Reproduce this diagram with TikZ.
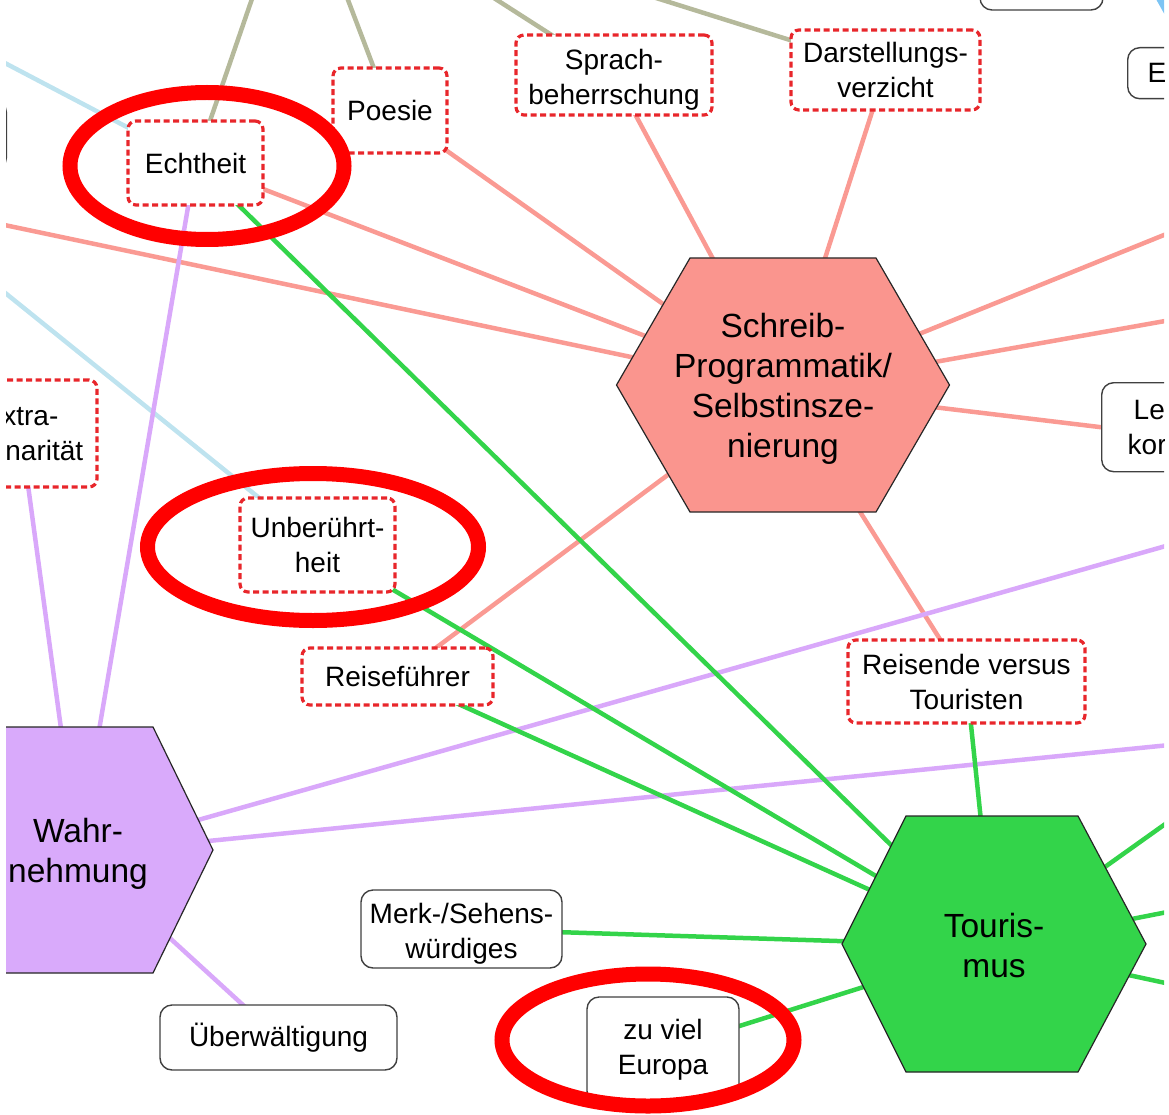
\documentclass[tikz,border=0pt]{standalone}
\usepackage{fontspec}
\setmainfont{Liberation Sans}
\pgfdeclarelayer{edges}
\pgfsetlayers{edges,main}

\definecolor{salmonfill}{HTML}{FA958E}
\definecolor{salmonline}{HTML}{FA9A93}
\definecolor{greenfill}{HTML}{33D44A}
\definecolor{greenline}{HTML}{33D44A}
\definecolor{lilacfill}{HTML}{D9AAFB}
\definecolor{lilacline}{HTML}{D9A8FA}
\definecolor{oliveline}{HTML}{B5B99B}
\definecolor{skyline}{HTML}{BEE3EF}
\definecolor{skyfill}{HTML}{7CC4F4}
\definecolor{dashred}{HTML}{E8262B}
\definecolor{boxgray}{HTML}{404040}
\definecolor{markred}{HTML}{FF0000}

\tikzset{
  dashbox/.style={draw=dashred, line width=3.2pt, dash pattern=on 6pt off 3.5pt,
    rounded corners=8pt, fill=white, align=center, inner sep=0pt,
    font=\fontsize{28}{35}\selectfont},
  solidbox/.style={draw=boxgray, line width=1.4pt, rounded corners=12pt,
    fill=white, align=center, inner sep=0pt, font=\fontsize{28}{35}\selectfont},
  boxtext/.style={align=center, inner sep=0pt, font=\fontsize{28}{35}\selectfont},
  hexborder/.style={draw=black!85, line width=1.2pt},
  hextext/.style={align=center, inner sep=0pt, font=\fontsize{33.5}{40}\selectfont},
  conn/.style={line width=4.5pt},
  ring/.style={draw=markred, line width=15pt}
}

\begin{document}
\begin{tikzpicture}[x=1pt, y=-1pt]
\useasboundingbox (0,0) rectangle (1169,1115);

\begin{scope}
\clip (6,0) rectangle (1164,1092);

% free ends of connectors leaving the visible area
\coordinate (oEchTop) at (286,-100);
\coordinate (oPoeTop) at (310,-100);
\coordinate (oSprTop) at (341,-100);
\coordinate (oDarTop) at (500,-51);
\coordinate (oEchLeft) at (-100,8);
\coordinate (oUnbLeft) at (-100,208);
\coordinate (oSchLeft) at (-100,203);
\coordinate (oSchR1) at (1300,180);
\coordinate (oSchR2) at (1300,297);
\coordinate (oWahR1) at (1300,508);
\coordinate (oWahR2) at (1300,732);
\coordinate (oTouR1) at (1300,728);
\coordinate (oTouR2) at (1300,886);
\coordinate (oTouR3) at (1300,1012);

% partly visible shape in the upper right corner
\fill[skyfill] (1156.5,0) -- (1166,0) -- (1166,17) -- cycle;

% hexagons
\filldraw[hexborder, fill=salmonfill, shift={(783,385)}]
  (-166.5,0) -- (-93,-127) -- (93,-127) -- (166.5,0) -- (93,127) -- (-93,127) -- cycle;
\node[hextext] (schreib) at (783,389) {Schreib-\\Programmatik/\\Selbstinsze-\\nierung};

\filldraw[hexborder, fill=lilacfill, shift={(77,850)}]
  (-136,0) -- (-76,-123) -- (76,-123) -- (136,0) -- (76,123) -- (-76,123) -- cycle;
\node[hextext] (wahr) at (78,854) {Wahr-\\nehmung};

\filldraw[hexborder, fill=greenfill, shift={(994,944)}]
  (-152,0) -- (-88,-128) -- (84,-128) -- (152,0) -- (84,128) -- (-88,128) -- cycle;
\node[hextext] (tour) at (994,946) {Touris-\\mus};

% dashed concept boxes
\node[dashbox, minimum width=135pt, minimum height=84pt] (ech) at (195.5,163) {Echtheit};
\node[dashbox, minimum width=114pt, minimum height=85pt] (poe) at (390,110.5) {Poesie};
\node[dashbox, minimum width=196pt, minimum height=80pt] (spr) at (614,75) {};
\node[boxtext] (sprtext) at (614,80) {Sprach-\\beherrschung};
\node[dashbox, minimum width=189pt, minimum height=80pt] (dar) at (885.5,70) {Darstellungs-\\verzicht};
\node[dashbox, minimum width=152pt, minimum height=107pt] (ext) at (21,433.5) {Extra-\\ordinarität};
\node[dashbox, minimum width=155pt, minimum height=94pt] (unb) at (317.5,545) {Unberührt-\\heit};
\node[dashbox, minimum width=191pt, minimum height=57pt] (rf) at (397.5,676.5) {Reiseführer};
\node[dashbox, minimum width=237pt, minimum height=83pt] (rvt) at (966.5,681.5) {Reisende versus\\Touristen};

% plain boxes
\node[solidbox, minimum width=201pt, minimum height=78pt] (merk) at (461.5,929) {};
\node[boxtext] (merktext) at (461.5,934) {Merk-/Sehens-\\würdiges};
\node[solidbox, minimum width=237pt, minimum height=65pt] (ueb) at (278.5,1037.5) {Überwältigung};
\node[solidbox, minimum width=152pt, minimum height=106pt] (zve) at (663,1050) {zu viel\\Europa};
\node[solidbox, minimum width=123pt, minimum height=60pt] (topbox) at (1041.5,-20) {};
\node[solidbox, minimum width=100pt, minimum height=70pt, anchor=east] (leftbox) at (7,135) {};
\node[solidbox, anchor=north west, inner xsep=20pt, text width=140pt,
      minimum height=51pt, align=left] (ebox) at (1127,47) {E};
\node[solidbox, anchor=north west, inner xsep=26pt, text width=140pt,
      minimum height=89pt, align=left] (lebox) at (1101,382) {\hspace*{6pt}Le\\kor};
\end{scope}

% connectors, drawn beneath all shapes
\begin{pgfonlayer}{edges}
\begin{scope}
\clip (6,0) rectangle (1164,1092);
% olive
\draw[conn, oliveline] (ech.center) -- (oEchTop);
\draw[conn, oliveline] (poe.center) -- (oPoeTop);
\draw[conn, oliveline] (spr.center) -- (oSprTop);
\draw[conn, oliveline] (dar.center) -- (oDarTop);
% light blue
\draw[conn, skyline] (ech.center) -- (oEchLeft);
\draw[conn, skyline] (unb.center) -- (oUnbLeft);
% salmon
\draw[conn, salmonline] (schreib.center) -- (ech.center);
\draw[conn, salmonline] (schreib.center) -- (poe.center);
\draw[conn, salmonline] (schreib.center) -- (spr.center);
\draw[conn, salmonline] (schreib.center) -- (dar.center);
\draw[conn, salmonline] (schreib.center) -- (oSchLeft);
\draw[conn, salmonline] (schreib.center) -- (oSchR1);
\draw[conn, salmonline] (schreib.center) -- (oSchR2);
\draw[conn, salmonline] (schreib.center) -- (lebox.west);
\draw[conn, salmonline] (schreib.center) -- (rvt.center);
\draw[conn, salmonline] (schreib.center) -- (rf.center);
% lilac
\draw[conn, lilacline] (wahr.center) -- (ech.center);
\draw[conn, lilacline] (wahr.center) -- (ext.center);
\draw[conn, lilacline] (wahr.center) -- (oWahR1);
\draw[conn, lilacline] (wahr.center) -- (oWahR2);
\draw[conn, lilacline] (wahr.center) -- (ueb.center);
% green
\draw[conn, greenline] (tour.center) -- (ech.center);
\draw[conn, greenline] (tour.center) -- (unb.center);
\draw[conn, greenline] (tour.center) -- (rf.center);
\draw[conn, greenline] (tour.center) -- (rvt.center);
\draw[conn, greenline] (tour.center) -- (merk.center);
\draw[conn, greenline] (tour.center) -- (zve.center);
\draw[conn, greenline] (tour.center) -- (oTouR1);
\draw[conn, greenline] (tour.center) -- (oTouR2);
\draw[conn, greenline] (tour.center) -- (oTouR3);
\end{scope}
\end{pgfonlayer}

% red highlight rings
\draw[ring] (207,166) ellipse [x radius=137, y radius=73.5];
\draw[ring] (313,547) ellipse [x radius=165.5, y radius=73.5];
\draw[ring] (648,1040) ellipse [x radius=146, y radius=66];
\end{tikzpicture}
\end{document}
